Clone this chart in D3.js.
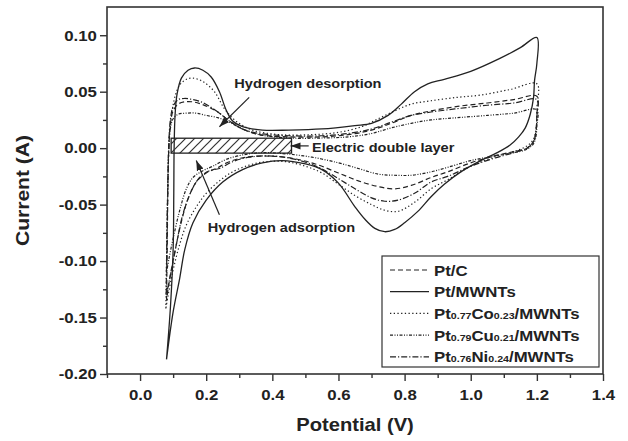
<!DOCTYPE html>
<html>
<head>
<meta charset="utf-8">
<script src="https://cdn.jsdelivr.net/npm/d3@7"></script>
<style>
  body { margin: 0; background: #fff; }
  text { font-family: "Liberation Sans", Arial, sans-serif; font-weight: bold; fill: #222; }
</style>
</head>
<body>
<svg id="chart" width="628" height="441"></svg>
<script>
// Chart data (potential in V, current in A), each loop: anodic sweep then cathodic sweep
var seriesNames = ["Pt/C", "Pt/MWNTs", "Pt_0.77_Co_0.23_/MWNTs", "Pt_0.79_Cu_0.21_/MWNTs", "Pt_0.76_Ni_0.24_/MWNTs"];

var ptC = [[0.08,-0.135],[0.082,-0.09],[0.084,-0.04],[0.087,0.0],[0.092,0.022],[0.10,0.033],[0.115,0.039],[0.135,0.041],[0.16,0.041],[0.185,0.039],[0.21,0.036],[0.24,0.031],[0.27,0.024],[0.31,0.017],[0.36,0.012],[0.45,0.010],[0.55,0.010],[0.63,0.012],[0.70,0.016],[0.76,0.022],[0.82,0.029],[0.88,0.033],[0.96,0.037],[1.05,0.040],[1.13,0.043],[1.2,0.046],
  [1.2,0.03],[1.197,0.015],[1.19,0.006],[1.17,0.0],[1.13,-0.003],[1.07,-0.007],[1.0,-0.013],[0.93,-0.021],[0.88,-0.026],[0.82,-0.033],[0.77,-0.036],[0.72,-0.034],[0.66,-0.029],[0.60,-0.022],[0.53,-0.014],[0.46,-0.009],[0.39,-0.007],[0.32,-0.008],[0.27,-0.012],[0.23,-0.018],[0.20,-0.022],[0.17,-0.030],[0.145,-0.045],[0.125,-0.065],[0.105,-0.092],[0.09,-0.115],[0.08,-0.135]];

var ptMWNT = [[0.08,-0.187],[0.092,-0.14],[0.10,-0.09],[0.102,-0.04],[0.103,0.0],[0.106,0.03],[0.112,0.048],[0.125,0.062],[0.145,0.069],[0.165,0.071],[0.19,0.069],[0.215,0.063],[0.24,0.050],[0.26,0.034],[0.28,0.024],[0.31,0.019],[0.37,0.016],[0.45,0.016],[0.55,0.017],[0.65,0.020],[0.70,0.022],[0.75,0.029],[0.79,0.039],[0.83,0.050],[0.87,0.057],[0.92,0.061],[1.0,0.068],[1.085,0.079],[1.15,0.089],[1.2,0.098],
  [1.2,0.075],[1.193,0.06],[1.19,0.045],[1.18,0.03],[1.165,0.018],[1.145,0.01],[1.12,0.003],[1.08,-0.004],[1.03,-0.011],[0.97,-0.021],[0.92,-0.032],[0.88,-0.043],[0.84,-0.056],[0.80,-0.066],[0.77,-0.072],[0.74,-0.074],[0.71,-0.071],[0.68,-0.063],[0.65,-0.052],[0.60,-0.031],[0.55,-0.019],[0.50,-0.014],[0.43,-0.011],[0.37,-0.013],[0.31,-0.019],[0.25,-0.030],[0.20,-0.046],[0.16,-0.066],[0.135,-0.09],[0.12,-0.115],[0.10,-0.145],[0.08,-0.187]];

var ptCo = [[0.078,-0.142],[0.08,-0.10],[0.083,-0.05],[0.086,-0.01],[0.09,0.015],[0.097,0.033],[0.107,0.047],[0.12,0.056],[0.14,0.061],[0.16,0.062],[0.19,0.059],[0.225,0.050],[0.255,0.035],[0.29,0.024],[0.34,0.016],[0.42,0.012],[0.52,0.012],[0.60,0.014],[0.67,0.019],[0.72,0.026],[0.77,0.033],[0.82,0.039],[0.88,0.042],[0.96,0.045],[1.03,0.047],[1.12,0.052],[1.2,0.057],
  [1.2,0.035],[1.198,0.018],[1.19,0.008],[1.17,0.002],[1.13,-0.003],[1.08,-0.007],[1.0,-0.016],[0.93,-0.028],[0.88,-0.036],[0.83,-0.048],[0.78,-0.056],[0.74,-0.055],[0.70,-0.050],[0.65,-0.042],[0.60,-0.032],[0.55,-0.022],[0.50,-0.016],[0.44,-0.012],[0.38,-0.012],[0.33,-0.015],[0.28,-0.021],[0.24,-0.029],[0.20,-0.040],[0.17,-0.052],[0.14,-0.068],[0.12,-0.085],[0.10,-0.108],[0.085,-0.13],[0.078,-0.142]];

var ptCu = [[0.08,-0.11],[0.082,-0.07],[0.084,-0.03],[0.087,0.0],[0.092,0.018],[0.10,0.026],[0.115,0.030],[0.14,0.031],[0.17,0.031],[0.20,0.029],[0.235,0.027],[0.27,0.023],[0.31,0.017],[0.36,0.012],[0.45,0.009],[0.55,0.009],[0.63,0.010],[0.70,0.013],[0.76,0.018],[0.82,0.022],[0.88,0.025],[0.96,0.027],[1.05,0.029],[1.13,0.031],[1.2,0.034],
  [1.2,0.02],[1.197,0.01],[1.19,0.004],[1.17,-0.001],[1.13,-0.004],[1.07,-0.007],[1.0,-0.011],[0.93,-0.017],[0.88,-0.021],[0.82,-0.024],[0.77,-0.024],[0.72,-0.023],[0.66,-0.018],[0.60,-0.013],[0.52,-0.008],[0.44,-0.005],[0.37,-0.004],[0.31,-0.006],[0.26,-0.010],[0.22,-0.016],[0.19,-0.020],[0.16,-0.026],[0.14,-0.036],[0.12,-0.055],[0.10,-0.08],[0.088,-0.097],[0.08,-0.11]];

var ptNi = [[0.079,-0.13],[0.081,-0.08],[0.084,-0.03],[0.087,0.005],[0.092,0.026],[0.10,0.037],[0.115,0.043],[0.135,0.044],[0.16,0.043],[0.185,0.041],[0.21,0.037],[0.24,0.031],[0.27,0.024],[0.31,0.017],[0.36,0.013],[0.45,0.011],[0.55,0.011],[0.63,0.013],[0.70,0.017],[0.76,0.023],[0.82,0.029],[0.88,0.032],[0.96,0.035],[1.05,0.038],[1.13,0.040],[1.2,0.043],
  [1.2,0.028],[1.197,0.014],[1.19,0.006],[1.17,0.0],[1.13,-0.004],[1.07,-0.009],[1.0,-0.016],[0.93,-0.025],[0.88,-0.030],[0.83,-0.040],[0.78,-0.046],[0.74,-0.047],[0.70,-0.044],[0.65,-0.036],[0.60,-0.027],[0.54,-0.017],[0.47,-0.010],[0.40,-0.007],[0.33,-0.008],[0.28,-0.012],[0.24,-0.018],[0.21,-0.020],[0.18,-0.026],[0.155,-0.038],[0.13,-0.058],[0.11,-0.085],[0.095,-0.108],[0.079,-0.13]];

var seriesData = [ptC, ptMWNT, ptCo, ptCu, ptNi];

// Axis ticks
var xTicks = [0.0, 0.2, 0.4, 0.6, 0.8, 1.0, 1.2, 1.4];
var xMinorTicks = [-0.1, 0.1, 0.3, 0.5, 0.7, 0.9, 1.1, 1.3];
var yTicks = [-0.20, -0.15, -0.10, -0.05, 0.00, 0.05, 0.10];
var yMinorTicks = [-0.175, -0.125, -0.075, -0.025, 0.025, 0.075];

// Electric double layer box: V from, V to, I top, I bottom
var annoRect = [0.094, 0.458, 0.0088, -0.0044];

// Layout
var w = 628, h = 441;
var margin = {left: 107, top: 7, right: 25, bottom: 67};
var stretch = 1.12;
var dashes = ["5,3", null, "1.3,2.4", "3,1.5,1,1.5,1,1.5", "6,2,1.2,2"];

var svg = d3.select('#chart');

var xScale = d3.scaleLinear()
               .domain([-0.1, 1.4])
               .range([margin.left, w - margin.right]);

var yScale = d3.scaleLinear()
               .domain([-0.2, 0.125])
               .range([h - margin.bottom, margin.top]);

var defs = svg.append("defs");

// hatch for electric double layer box
var pat = defs.append("pattern")
              .attr("id", "hatch")
              .attr("patternUnits", "userSpaceOnUse")
              .attr("width", 9)
              .attr("height", 9);
pat.append("path")
   .attr("d", "M-2,2 L2,-2 M0,9 L9,0 M7,11 L11,7")
   .attr("stroke", "#333")
   .attr("stroke-width", 1.2);

defs.append("marker")
    .attr("id", "arrow")
    .attr("viewBox", "0 0 10 10")
    .attr("refX", 10)
    .attr("refY", 5)
    .attr("markerWidth", 10)
    .attr("markerHeight", 10)
    .attr("markerUnits", "userSpaceOnUse")
    .attr("orient", "auto")
    .append("path")
    .attr("d", "M0,1.5 L10,5 L0,8.5 Z")
    .attr("fill", "#222");

// Curves
var line = d3.line()
             .x((d) => xScale(d[0]))
             .y((d) => yScale(d[1]))
             .curve(d3.curveCatmullRom.alpha(0.5));

seriesData.forEach(function(d, i) {
  svg.append("path")
     .attr("d", line(d))
     .attr("fill", "none")
     .attr("stroke", "#222")
     .attr("stroke-width", i == 1 ? 1.3 : 1.2)
     .attr("stroke-dasharray", dashes[i]);
});

// Electric double layer box
svg.append("rect")
   .attr("x", xScale(annoRect[0]))
   .attr("y", yScale(annoRect[2]))
   .attr("width", xScale(annoRect[1]) - xScale(annoRect[0]))
   .attr("height", yScale(annoRect[3]) - yScale(annoRect[2]))
   .attr("fill", "url(#hatch)")
   .attr("stroke", "#222")
   .attr("stroke-width", 1.3);

// Annotation text + arrows
function label(txt, v, c, size) {
  svg.append("text")
     .attr("transform", "translate(" + xScale(v) + "," + yScale(c) + ") scale(" + stretch + ",1)")
     .attr("font-size", size)
     .text(txt);
}
function arrow(v1, c1, v2, c2) {
  svg.append("line")
     .attr("x1", xScale(v1)).attr("y1", yScale(c1))
     .attr("x2", xScale(v2)).attr("y2", yScale(c2))
     .attr("stroke", "#222")
     .attr("stroke-width", 1.2)
     .attr("marker-end", "url(#arrow)");
}

label("Hydrogen desorption", 0.285, 0.053, 13);
arrow(0.33, 0.045, 0.24, 0.019);
label("Electric double layer", 0.52, -0.0035, 13);
arrow(0.51, 0.002, 0.455, 0.002);
label("Hydrogen adsorption", 0.205, -0.0745, 13);
arrow(0.24, -0.059, 0.17, -0.011);

// Axes
var xAxis = d3.axisBottom(xScale).tickValues(xTicks).tickSize(7).tickPadding(8)
              .tickFormat((d) => d.toFixed(1));
var xMinor = d3.axisBottom(xScale).tickValues(xMinorTicks).tickSize(4).tickFormat("");
var yAxis = d3.axisLeft(yScale).tickValues(yTicks).tickSize(7).tickPadding(2)
              .tickFormat((d) => d.toFixed(2));
var yMinor = d3.axisLeft(yScale).tickValues(yMinorTicks).tickSize(4).tickFormat("");

[[xAxis, "translate(0," + (h - margin.bottom) + ")"],
 [xMinor, "translate(0," + (h - margin.bottom) + ")"],
 [yAxis, "translate(" + margin.left + ",0)"],
 [yMinor, "translate(" + margin.left + ",0)"]].forEach(function(a) {
  var g = svg.append("g").attr("transform", a[1]).call(a[0]);
  g.select(".domain").remove();
  g.selectAll("line").attr("stroke", "#333").attr("stroke-width", 1.4);
  g.selectAll("text")
   .attr("font-family", "Liberation Sans, Arial, sans-serif")
   .attr("font-weight", "bold")
   .attr("font-size", 15)
   .attr("fill", "#222")
   .attr("transform", "scale(" + stretch + ",1)");
});

// Frame
svg.append("rect")
   .attr("x", margin.left)
   .attr("y", margin.top)
   .attr("width", w - margin.left - margin.right)
   .attr("height", h - margin.top - margin.bottom)
   .attr("fill", "none")
   .attr("stroke", "#333")
   .attr("stroke-width", 1.6);

// Axis titles
svg.append("text")
   .attr("transform", "translate(" + ((margin.left + w - margin.right) / 2) + ",431) scale(" + stretch + ",1)")
   .attr("text-anchor", "middle")
   .attr("font-size", 18)
   .text("Potential (V)");

svg.append("text")
   .attr("transform", "translate(29," + ((margin.top + h - margin.bottom) / 2) + ") rotate(-90) scale(1.17,1)")
   .attr("text-anchor", "middle")
   .attr("font-size", 18)
   .text("Current (A)");

// Legend
var lg = svg.append("g").attr("transform", "translate(382,256)");
lg.append("rect")
  .attr("width", 217)
  .attr("height", 111)
  .attr("fill", "#fff")
  .attr("stroke", "#333")
  .attr("stroke-width", 1.2);

seriesNames.forEach(function(name, i) {
  var yy = 14 + i * 21.7;
  lg.append("line")
    .attr("x1", 8).attr("x2", 47)
    .attr("y1", yy).attr("y2", yy)
    .attr("stroke", "#222")
    .attr("stroke-width", 1.2)
    .attr("stroke-dasharray", dashes[i]);
  var t = lg.append("text")
            .attr("transform", "translate(52," + (yy + 5.5) + ") scale(" + stretch + ",1)")
            .attr("font-size", 15);
  name.split("_").forEach(function(part, j) {
    t.append("tspan")
     .attr("font-size", j % 2 ? 9.5 : 15)
     .text(part);
  });
});
</script>
</body>
</html>
